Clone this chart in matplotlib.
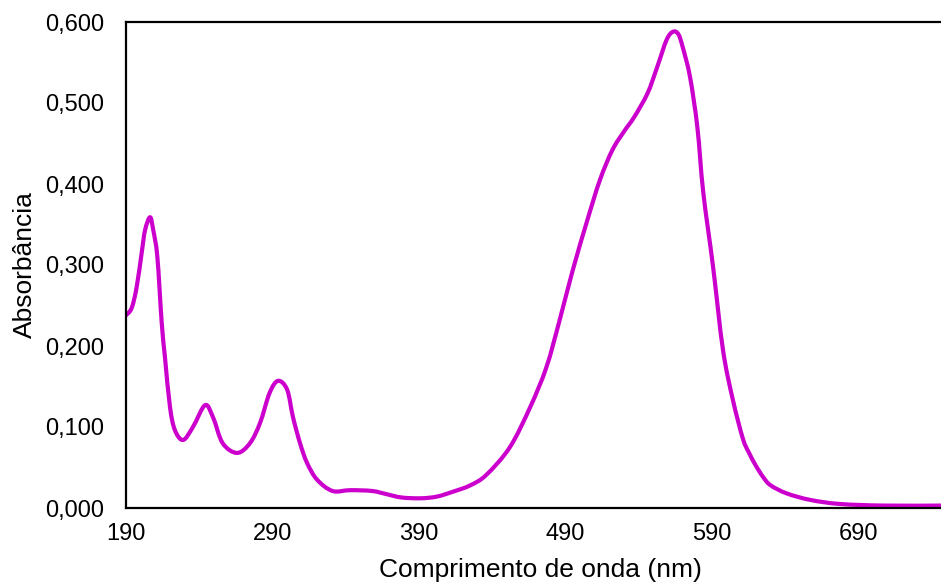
import matplotlib.pyplot as plt
from matplotlib.path import Path
from matplotlib.patches import PathPatch
from matplotlib.ticker import FuncFormatter

plt.rcParams['font.family'] = ['Liberation Sans', 'DejaVu Sans']

# absorption spectrum
wavelength = [190, 193.9, 197.3, 200.7, 203, 206.4, 208.6, 211.4, 214.4, 216.6,
              220, 223.4, 229, 235.7, 244, 249.4, 256, 265.8, 274.6, 281.5,
              288, 293.8, 300, 304, 308.8, 313.5, 320.4, 331, 343, 358,
              368, 378, 391, 402, 413, 425, 436, 452, 466, 477,
              486, 495, 505, 513.5, 522, 530, 537, 546, 552.5, 559,
              563.4, 567, 570, 575, 580, 584, 590.7, 597.5, 604.3, 611,
              615, 620, 625, 630, 641, 657, 677, 707, 746]
absorbance = [0.238, 0.247, 0.273, 0.315, 0.343, 0.359, 0.343, 0.310, 0.228, 0.186,
              0.125, 0.096, 0.084, 0.100, 0.127, 0.112, 0.080, 0.068, 0.080, 0.105,
              0.142, 0.157, 0.146, 0.112, 0.080, 0.056, 0.035, 0.021, 0.022, 0.021,
              0.017, 0.013, 0.012, 0.014, 0.020, 0.028, 0.041, 0.075, 0.125, 0.174,
              0.232, 0.294, 0.356, 0.405, 0.442, 0.465, 0.483, 0.512, 0.544, 0.578,
              0.588, 0.585, 0.569, 0.532, 0.470, 0.390, 0.298, 0.195, 0.133, 0.086,
              0.069, 0.052, 0.038, 0.028, 0.018, 0.010, 0.005, 0.003, 0.003]

x_ticks = [190, 290, 390, 490, 590, 690]
y_ticks = [0.0, 0.1, 0.2, 0.3, 0.4, 0.5, 0.6]


def smooth_path(xs, ys):
    # Excel-style "smoothed line": cubic Bezier segments through every point
    pts = list(zip(xs, ys))
    n = len(pts)
    verts = [pts[0]]
    codes = [Path.MOVETO]
    for i in range(n - 1):
        p0 = pts[i - 1] if i > 0 else pts[i]
        p1 = pts[i]
        p2 = pts[i + 1]
        p3 = pts[i + 2] if i + 2 < n else pts[i + 1]
        c1 = (p1[0] + (p2[0] - p0[0]) / 6, p1[1] + (p2[1] - p0[1]) / 6)
        c2 = (p2[0] - (p3[0] - p1[0]) / 6, p2[1] - (p3[1] - p1[1]) / 6)
        verts += [c1, c2, p2]
        codes += [Path.CURVE4] * 3
    return Path(verts, codes)


fig = plt.figure(figsize=(9.41, 5.85), dpi=100)
ax = fig.add_axes([126 / 941, 77 / 585, 1 - 126 / 941, 486 / 585])

curve = PathPatch(smooth_path(wavelength, absorbance), fill=False,
                  edgecolor='#CC00CC', linewidth=3.0, joinstyle='round',
                  capstyle='round')
ax.add_patch(curve)

ax.set_xlim(190, 746.3)
ax.set_ylim(0, 0.6)
ax.set_xticks(x_ticks)
ax.set_yticks(y_ticks)
ax.yaxis.set_major_formatter(FuncFormatter(lambda v, p: f"{v:.3f}".replace('.', ',')))

ax.tick_params(length=0, labelsize=17)
ax.tick_params(axis='x', pad=11)
ax.tick_params(axis='y', pad=16)

for side in ['left', 'bottom', 'top']:
    ax.spines[side].set_linewidth(1.6)
    ax.spines[side].set_color('black')
    ax.spines[side].set_zorder(3)
ax.spines['right'].set_visible(False)

ax.set_xlabel("Comprimento de onda (nm)", fontsize=19)
ax.set_ylabel("Absorbância", fontsize=19)
ax.xaxis.set_label_coords(0.508, -0.103)
ax.yaxis.set_label_coords(-0.109, 0.5)

fig.savefig("out.png", dpi=100)
